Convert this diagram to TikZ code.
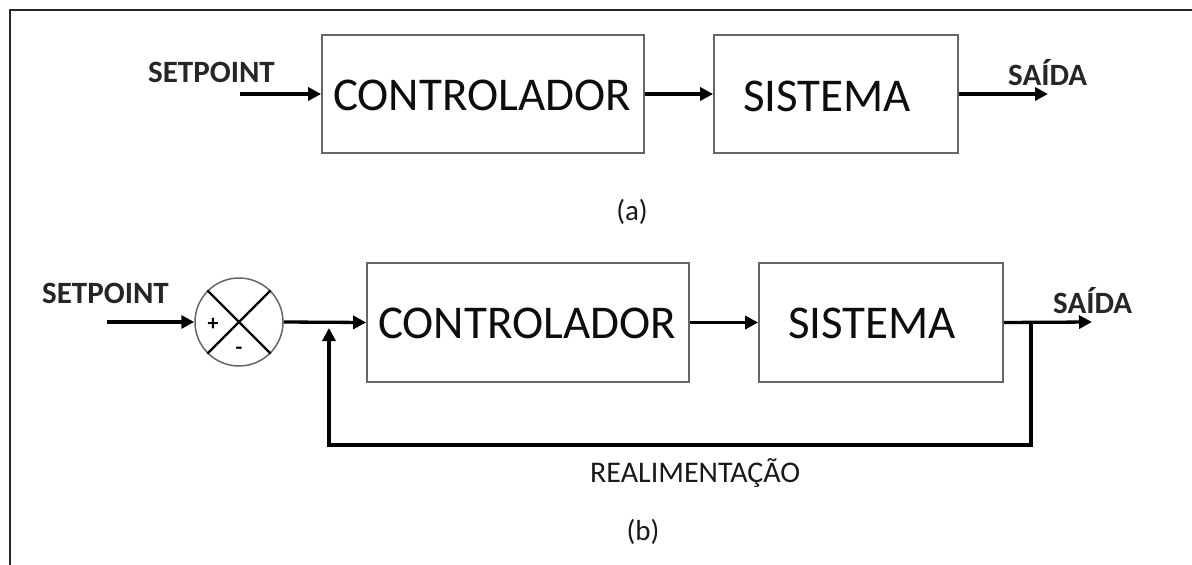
\documentclass[tikz,border=0pt]{standalone}
\usepackage{fontspec}
\setmainfont{Carlito}
\usetikzlibrary{arrows.meta,calc}

\tikzset{
  blockbox/.style={draw=black!60, line width=1.7pt, inner sep=0pt},
  sig/.style={line width=3.3pt, black, -{Triangle[length=13pt,width=13pt]}},
  blocktext/.style={inner sep=0pt, anchor=base west, font=\fontsize{47}{47}\selectfont, text=black!95},
  lbl/.style={inner sep=0pt, anchor=base west, font=\fontsize{31}{31}\selectfont\bfseries, text=black!85},
  fblbl/.style={inner sep=0pt, anchor=base west, font=\fontsize{30}{30}\selectfont, text=black!90},
  caption/.style={inner sep=0pt, font=\fontsize{29}{29}\selectfont, text=black!90},
  frameline/.style={line width=2pt, black!85},
}

\begin{document}
\begin{tikzpicture}[x=1pt,y=-1pt]
\useasboundingbox (0,0) rectangle (1192,565);

% outer frame
\coordinate (fl) at (10,565);
\coordinate (fc) at (10,10);
\coordinate (fr) at (1192,10);
\draw[frameline] (fl) -- (fc) -- (fr);

% ---------- (a) open loop ----------
\node[blockbox, minimum width=322pt, minimum height=118pt] (ctrlA) at (483,94) {};
\node[blockbox, minimum width=244pt, minimum height=118pt] (sysA) at (836,94) {};
\node[blocktext] (ctrlAt) at (333,110) {CONTROLADOR};
\node[blocktext] (sysAt) at (743,111) {SISTEMA};

\coordinate (inA) at (240,94);
\coordinate (outA) at (1048,94);
\draw[sig] (inA) -- (ctrlA.west);
\draw[sig] (ctrlA.east) -- (sysA.west);
\draw[sig] (sysA.east) -- (outA);

\node[lbl] (spA) at (148,82) {SETPOINT};
\node[lbl] (saA) at (1008,85) {SAÍDA};
\node[caption] (capA) at (632,212) {(a)};

% ---------- (b) closed loop ----------
\node[draw=black!60, line width=1.5pt, circle, minimum size=88pt, inner sep=0pt] (sum) at (239,322) {};
\draw[line width=2.2pt, black] (sum.45) -- (sum.225);
\draw[line width=2.2pt, black] (sum.135) -- (sum.315);
\node[inner sep=0pt, font=\fontsize{22}{22}\selectfont\bfseries] (plus) at (213,324) {+};
\node[inner sep=0pt, font=\fontsize{22}{22}\selectfont\bfseries] (minus) at (239,351) {-};

\node[blockbox, minimum width=322pt, minimum height=119pt] (ctrlB) at (528,322.5) {};
\node[blockbox, minimum width=244pt, minimum height=119pt] (sysB) at (881,322.5) {};
\node[blocktext] (ctrlBt) at (378,338) {CONTROLADOR};
\node[blocktext] (sysBt) at (788,338) {SISTEMA};

\coordinate (inB) at (107,322);
\coordinate (outB) at (1092,322);
\coordinate (tap) at (1031,322);
\coordinate (fbR) at (1031,445);
\coordinate (fbL) at (329,445);
\coordinate (fbTip) at (329,328);

\draw[sig] (inB) -- (sum.west);
\draw[sig] (sum.east) -- (ctrlB.west);
\draw[sig] (ctrlB.east) -- (sysB.west);
\draw[sig] (sysB.east) -- (outB);
\draw[sig, line join=miter] (tap) -- (fbR) -- (fbL) -- (fbTip);

\node[lbl] (spB) at (42,303) {SETPOINT};
\node[lbl] (saB) at (1053,313) {SAÍDA};
\node[fblbl] (fbl) at (590,482) {REALIMENTAÇÃO};
\node[caption] (capB) at (643,532) {(b)};
\end{tikzpicture}
\end{document}
